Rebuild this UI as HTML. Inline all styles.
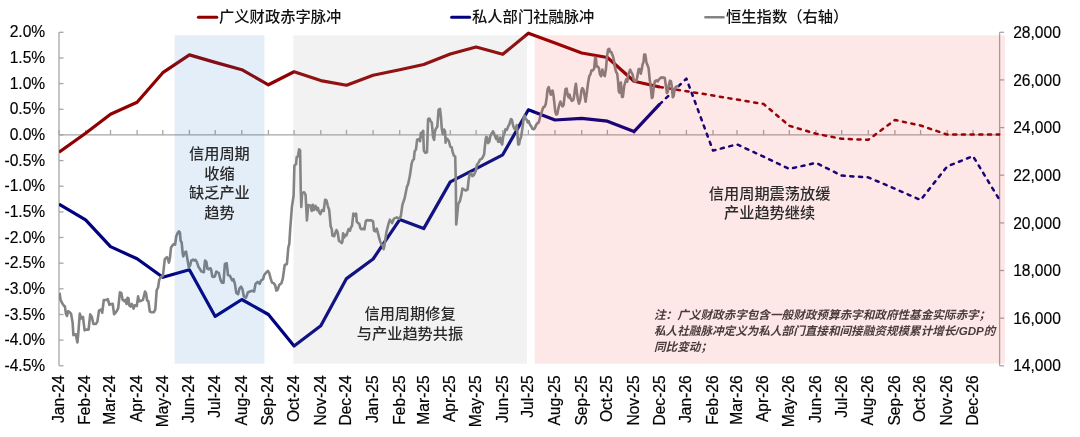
<!DOCTYPE html><html><head><meta charset="utf-8"><style>html,body{margin:0;padding:0;background:#fff;width:1080px;height:437px;overflow:hidden}svg{display:block}</style></head><body>
<svg width="1080" height="437" viewBox="0 0 1080 437">
<defs>
<clipPath id="plot"><rect x="59.0" y="0" width="941.4" height="437"/></clipPath>
</defs>
<g stroke="#A6A6A6" stroke-width="1.3" fill="none">
<line x1="59.0" y1="32.3" x2="59.0" y2="365.8"/>
<line x1="999.6" y1="32.3" x2="999.6" y2="365.8"/>
<line x1="59.0" y1="32.3" x2="63.5" y2="32.3"/>
<line x1="59.0" y1="58.0" x2="63.5" y2="58.0"/>
<line x1="59.0" y1="83.6" x2="63.5" y2="83.6"/>
<line x1="59.0" y1="109.3" x2="63.5" y2="109.3"/>
<line x1="59.0" y1="134.9" x2="63.5" y2="134.9"/>
<line x1="59.0" y1="160.6" x2="63.5" y2="160.6"/>
<line x1="59.0" y1="186.2" x2="63.5" y2="186.2"/>
<line x1="59.0" y1="211.9" x2="63.5" y2="211.9"/>
<line x1="59.0" y1="237.5" x2="63.5" y2="237.5"/>
<line x1="59.0" y1="263.2" x2="63.5" y2="263.2"/>
<line x1="59.0" y1="288.8" x2="63.5" y2="288.8"/>
<line x1="59.0" y1="314.5" x2="63.5" y2="314.5"/>
<line x1="59.0" y1="340.1" x2="63.5" y2="340.1"/>
<line x1="59.0" y1="365.8" x2="63.5" y2="365.8"/>
<line x1="999.6" y1="32.3" x2="1004.1" y2="32.3"/>
<line x1="999.6" y1="79.9" x2="1004.1" y2="79.9"/>
<line x1="999.6" y1="127.6" x2="1004.1" y2="127.6"/>
<line x1="999.6" y1="175.2" x2="1004.1" y2="175.2"/>
<line x1="999.6" y1="222.9" x2="1004.1" y2="222.9"/>
<line x1="999.6" y1="270.5" x2="1004.1" y2="270.5"/>
<line x1="999.6" y1="318.2" x2="1004.1" y2="318.2"/>
<line x1="999.6" y1="365.8" x2="1004.1" y2="365.8"/>
<line x1="59.0" y1="134.9" x2="999.6" y2="134.9"/>
<line x1="59.0" y1="129.9" x2="59.0" y2="134.9"/>
<line x1="85.6" y1="129.9" x2="85.6" y2="134.9"/>
<line x1="110.5" y1="129.9" x2="110.5" y2="134.9"/>
<line x1="137.1" y1="129.9" x2="137.1" y2="134.9"/>
<line x1="162.8" y1="129.9" x2="162.8" y2="134.9"/>
<line x1="189.4" y1="129.9" x2="189.4" y2="134.9"/>
<line x1="215.2" y1="129.9" x2="215.2" y2="134.9"/>
<line x1="241.8" y1="129.9" x2="241.8" y2="134.9"/>
<line x1="268.4" y1="129.9" x2="268.4" y2="134.9"/>
<line x1="294.1" y1="129.9" x2="294.1" y2="134.9"/>
<line x1="320.8" y1="129.9" x2="320.8" y2="134.9"/>
<line x1="346.5" y1="129.9" x2="346.5" y2="134.9"/>
<line x1="373.1" y1="129.9" x2="373.1" y2="134.9"/>
<line x1="399.7" y1="129.9" x2="399.7" y2="134.9"/>
<line x1="423.7" y1="129.9" x2="423.7" y2="134.9"/>
<line x1="450.3" y1="129.9" x2="450.3" y2="134.9"/>
<line x1="476.1" y1="129.9" x2="476.1" y2="134.9"/>
<line x1="502.7" y1="129.9" x2="502.7" y2="134.9"/>
<line x1="528.4" y1="129.9" x2="528.4" y2="134.9"/>
<line x1="555.0" y1="129.9" x2="555.0" y2="134.9"/>
<line x1="581.7" y1="129.9" x2="581.7" y2="134.9"/>
<line x1="607.4" y1="129.9" x2="607.4" y2="134.9"/>
<line x1="634.0" y1="129.9" x2="634.0" y2="134.9"/>
<line x1="659.7" y1="129.9" x2="659.7" y2="134.9"/>
<line x1="686.4" y1="129.9" x2="686.4" y2="134.9"/>
<line x1="713.0" y1="129.9" x2="713.0" y2="134.9"/>
<line x1="737.0" y1="129.9" x2="737.0" y2="134.9"/>
<line x1="763.6" y1="129.9" x2="763.6" y2="134.9"/>
<line x1="789.3" y1="129.9" x2="789.3" y2="134.9"/>
<line x1="815.9" y1="129.9" x2="815.9" y2="134.9"/>
<line x1="841.7" y1="129.9" x2="841.7" y2="134.9"/>
<line x1="868.3" y1="129.9" x2="868.3" y2="134.9"/>
<line x1="894.9" y1="129.9" x2="894.9" y2="134.9"/>
<line x1="920.6" y1="129.9" x2="920.6" y2="134.9"/>
<line x1="947.2" y1="129.9" x2="947.2" y2="134.9"/>
<line x1="973.0" y1="129.9" x2="973.0" y2="134.9"/>
<line x1="999.6" y1="129.9" x2="999.6" y2="134.9"/>
</g>
<g clip-path="url(#plot)">
<path d="M59.0,152.2 L85.6,133.2 L110.5,114.2 L137.1,102.3 L162.8,72.7 L189.4,54.9 L215.2,62.4 L241.8,69.7 L268.4,84.8 L294.1,71.8 L320.8,80.6 L346.5,85.2 L373.1,75.3 L399.7,69.7 L423.7,64.5 L450.3,54.0 L476.1,47.0 L502.7,54.3 L528.4,33.2 L555.0,42.9 L581.7,53.0 L607.4,57.5 L634.0,81.2 L659.7,87.0" stroke="#900000" stroke-width="3.2" fill="none" stroke-linejoin="round"/>
<path d="M659.7,87.0 L686.4,91.2 L713.0,95.5 L737.0,99.6 L763.6,104.0 L789.3,125.8 L815.9,133.7 L841.7,138.8 L868.3,139.8 L894.9,120.0 L920.6,125.5 L947.2,134.6 L973.0,134.6 L999.6,134.6" stroke="#900000" stroke-width="2.5" fill="none" stroke-dasharray="3.1 5.6" stroke-linecap="round" stroke-linejoin="round"/>
<path d="M59.0,204.2 L85.6,219.8 L110.5,246.6 L137.1,258.8 L162.8,277.3 L189.4,269.8 L215.2,316.4 L241.8,299.5 L268.4,314.5 L294.1,346.0 L320.8,325.8 L346.5,278.6 L373.1,259.0 L399.7,219.6 L423.7,228.6 L450.3,181.9 L476.1,168.6 L502.7,154.8 L528.4,109.8 L555.0,120.0 L581.7,118.4 L607.4,121.2 L634.0,131.6 L659.7,104.2" stroke="#000080" stroke-width="3.2" fill="none" stroke-linejoin="round"/>
<path d="M659.7,104.2 L686.4,78.6 L713.0,150.6 L737.0,144.4 L763.6,156.7 L789.3,168.9 L815.9,162.8 L841.7,175.6 L868.3,177.4 L894.9,188.7 L920.6,200.0 L947.2,166.4 L973.0,156.1 L999.6,200.0" stroke="#000080" stroke-width="2.5" fill="none" stroke-dasharray="3.1 5.6" stroke-linecap="round" stroke-linejoin="round"/>
<path d="M59.5,292.8 L60.6,300.0 L62.2,303.2 L63.8,305.6 L64.9,306.4 L65.9,313.6 L67.0,316.0 L68.1,311.2 L69.4,312.0 L71.0,313.6 L72.6,322.4 L73.4,335.2 L75.0,334.4 L75.8,334.4 L77.4,342.4 L78.2,334.4 L79.8,313.6 L81.4,318.4 L83.0,316.8 L84.6,330.4 L86.2,329.6 L88.6,329.6 L90.2,314.4 L91.8,316.8 L93.4,324.0 L95.8,324.0 L97.4,321.6 L99.0,310.4 L101.4,309.6 L102.2,312.8 L103.8,300.0 L106.2,300.0 L107.8,299.2 L109.4,304.8 L111.0,304.0 L112.7,303.9 L114.1,314.2 L115.5,312.9 L116.9,310.8 L118.2,308.1 L119.9,292.3 L121.3,293.0 L122.6,299.8 L124.4,301.2 L125.4,299.8 L126.5,303.9 L127.6,297.8 L128.5,298.4 L129.2,305.3 L130.6,306.7 L131.7,303.9 L132.7,306.0 L133.6,308.7 L134.7,305.3 L136.8,306.0 L138.1,296.4 L139.1,301.2 L140.9,300.9 L143.0,299.8 L145.0,291.6 L146.0,293.0 L147.1,300.5 L148.4,301.2 L149.8,311.5 L151.2,312.2 L153.9,312.2 L155.3,309.4 L156.7,290.2 L158.1,287.5 L159.2,279.9 L160.8,277.2 L162.9,275.8 L164.8,259.1 L166.9,257.1 L167.6,258.4 L168.9,262.6 L169.9,258.4 L171.0,247.5 L172.6,245.4 L173.7,244.0 L175.1,244.7 L176.2,236.5 L177.6,233.0 L178.9,231.3 L179.9,232.4 L180.6,240.6 L181.7,242.7 L182.7,253.6 L183.3,256.4 L184.7,252.3 L186.1,251.6 L187.5,259.8 L188.8,267.4 L190.2,265.3 L191.3,260.5 L193.0,259.5 L194.1,260.5 L195.4,259.8 L196.8,261.9 L198.4,266.7 L199.8,268.7 L201.2,271.5 L202.3,271.5 L203.9,272.2 L205.0,260.5 L206.4,261.9 L207.4,268.7 L208.7,269.4 L210.1,268.1 L211.1,269.4 L212.2,276.3 L213.5,277.0 L214.9,276.3 L216.3,271.5 L218.8,273.0 L220.5,279.8 L221.9,282.6 L223.5,282.6 L224.9,264.0 L226.7,263.3 L228.0,275.0 L229.8,275.7 L231.2,278.4 L232.2,280.5 L233.5,279.1 L234.9,283.9 L236.3,292.9 L238.1,294.2 L239.4,288.7 L241.1,286.7 L242.5,289.4 L243.8,296.3 L245.9,297.7 L248.0,292.2 L250.0,291.5 L252.1,290.8 L254.1,291.5 L255.5,283.9 L257.6,281.9 L259.6,283.9 L261.0,280.5 L263.1,279.1 L264.2,275.0 L265.8,273.0 L267.9,270.9 L269.2,273.0 L270.6,278.4 L272.0,282.6 L273.7,283.3 L275.1,285.1 L276.4,290.6 L277.7,289.7 L279.2,285.1 L281.4,283.3 L282.8,278.7 L284.7,265.0 L286.9,264.0 L288.3,247.5 L289.3,243.9 L290.2,229.2 L291.9,206.9 L293.6,195.7 L294.4,165.7 L296.1,164.0 L296.7,157.1 L297.9,156.3 L299.1,149.4 L300.1,150.3 L300.8,191.4 L301.3,206.9 L302.1,193.1 L304.2,192.3 L305.6,194.9 L306.9,220.5 L308.3,205.1 L310.7,205.8 L311.7,211.0 L312.8,204.8 L313.8,210.0 L315.5,205.8 L316.9,210.0 L317.9,207.9 L319.0,212.0 L320.4,214.1 L322.0,210.0 L323.7,211.0 L325.1,199.7 L326.6,200.7 L327.8,205.8 L329.2,210.0 L330.7,226.6 L331.8,229.3 L332.4,235.5 L334.2,236.2 L335.1,233.4 L336.5,230.0 L337.6,232.1 L339.0,241.0 L340.4,241.7 L341.7,243.1 L342.4,241.7 L343.1,233.4 L344.2,237.6 L345.2,234.8 L346.5,235.5 L347.5,232.1 L348.6,229.1 L350.0,230.7 L350.7,228.0 L352.0,225.9 L353.4,213.5 L354.8,215.6 L356.1,213.5 L356.8,221.8 L358.2,223.1 L359.3,223.8 L360.3,228.0 L361.6,229.3 L363.0,228.6 L364.4,229.3 L365.8,221.1 L367.1,220.1 L369.2,220.4 L371.3,220.4 L373.0,221.1 L374.0,230.7 L375.4,231.4 L376.7,228.6 L377.7,232.1 L379.1,237.6 L380.2,241.7 L381.5,244.4 L382.6,245.1 L383.6,249.2 L384.3,246.5 L385.4,238.9 L386.4,232.3 L388.7,223.1 L389.9,219.7 L392.1,223.1 L394.0,218.6 L396.7,217.4 L399.0,218.6 L400.8,216.3 L402.4,204.9 L404.7,198.0 L407.0,186.6 L408.1,184.3 L410.0,175.1 L411.6,163.7 L412.7,160.3 L413.9,159.1 L414.6,151.5 L416.0,149.4 L417.1,139.8 L418.7,139.1 L420.1,141.2 L420.8,133.0 L421.8,132.3 L422.6,137.1 L423.1,130.9 L423.9,150.8 L425.3,152.9 L427.0,152.2 L428.1,119.2 L429.4,118.5 L430.4,120.6 L431.8,122.7 L433.1,137.1 L434.1,139.8 L434.9,131.6 L435.9,128.8 L437.3,126.8 L438.6,109.6 L440.0,108.9 L441.0,117.9 L441.8,128.8 L442.8,134.3 L444.1,129.5 L445.1,131.6 L445.6,142.6 L446.2,138.4 L447.6,139.1 L448.9,141.2 L450.3,146.7 L451.7,147.4 L452.5,151.3 L453.8,155.5 L455.2,156.5 L455.8,181.2 L456.2,224.5 L457.3,214.2 L458.3,203.9 L460.0,200.8 L461.4,194.6 L462.4,188.5 L464.1,189.5 L465.5,190.5 L467.6,189.5 L468.6,180.2 L469.6,174.0 L471.1,173.0 L472.3,176.1 L473.8,175.1 L475.8,170.9 L476.9,164.7 L478.5,162.7 L480.0,159.6 L482.0,158.6 L484.1,154.4 L485.5,140.3 L486.2,136.9 L487.1,137.6 L488.0,143.1 L489.3,141.7 L490.3,136.2 L491.7,133.4 L493.0,131.4 L494.0,133.4 L495.1,136.2 L496.2,138.9 L497.2,136.2 L498.1,141.7 L499.2,141.7 L500.3,137.6 L501.3,143.1 L502.2,144.4 L503.3,136.2 L504.4,133.4 L505.4,129.3 L506.8,130.0 L508.1,126.6 L509.5,123.8 L510.9,119.0 L511.9,119.7 L513.0,125.2 L514.3,128.6 L515.7,129.3 L516.8,125.2 L518.2,144.4 L519.1,144.4 L519.8,140.3 L520.9,137.6 L521.9,132.1 L522.8,125.2 L523.7,117.7 L524.6,115.6 L525.6,119.0 L526.7,119.7 L527.8,122.5 L528.7,121.1 L530.1,125.2 L531.1,125.9 L532.2,128.6 L533.6,129.3 L534.9,128.0 L536.0,125.2 L537.0,123.8 L538.8,122.2 L540.2,116.7 L541.2,114.0 L542.6,109.1 L543.5,107.1 L544.6,106.8 L545.7,104.3 L546.7,97.5 L547.6,89.2 L548.7,87.2 L549.8,91.3 L550.8,94.7 L551.5,91.3 L552.6,90.6 L553.5,95.4 L554.2,101.6 L555.3,111.9 L556.3,114.6 L557.3,114.0 L558.1,109.8 L559.0,105.7 L560.4,101.6 L561.4,104.3 L562.5,106.4 L563.6,105.0 L564.5,96.8 L565.5,89.2 L566.6,88.5 L567.7,95.4 L568.7,97.5 L569.6,94.7 L570.7,98.8 L571.8,100.9 L573.2,100.2 L574.1,96.1 L575.1,87.9 L575.9,83.7 L576.9,92.7 L577.9,99.5 L579.0,103.7 L580.3,99.5 L581.4,90.6 L582.4,88.1 L583.5,89.7 L584.5,95.3 L585.6,101.7 L586.7,93.7 L588.0,83.3 L589.3,76.1 L590.4,74.5 L591.5,70.4 L592.8,70.4 L594.1,68.8 L595.2,57.6 L596.0,58.4 L596.5,66.4 L597.6,66.4 L598.9,68.0 L600.0,74.5 L601.2,76.1 L602.4,69.6 L603.7,74.5 L604.8,76.1 L606.0,68.8 L606.9,57.6 L608.0,49.6 L609.2,48.8 L610.1,52.0 L611.3,52.0 L612.1,54.4 L612.9,56.0 L614.0,60.8 L614.9,67.2 L616.1,72.0 L617.2,73.7 L618.1,81.7 L618.8,91.3 L619.7,92.9 L620.9,82.5 L622.0,96.9 L622.9,96.9 L624.1,86.5 L625.2,82.5 L626.2,79.3 L627.3,81.7 L628.0,75.2 L629.1,72.5 L630.2,69.7 L631.2,71.8 L632.6,74.5 L633.5,79.3 L634.6,81.4 L636.0,81.0 L637.1,78.0 L638.0,72.5 L638.7,69.0 L639.8,69.0 L640.8,73.8 L641.8,69.0 L642.6,64.2 L643.5,62.2 L644.2,54.6 L645.3,54.6 L646.3,61.5 L647.0,64.2 L647.7,65.6 L648.6,68.3 L649.7,79.3 L650.8,87.6 L651.8,97.9 L652.7,97.2 L653.8,86.2 L654.9,81.4 L656.3,80.4 L657.7,81.4 L659.1,79.3 L660.4,78.0 L661.4,77.3 L662.3,78.0 L663.4,77.3 L664.8,78.0 L665.9,86.2 L666.9,93.1 L667.8,91.7 L668.9,84.8 L670.0,80.7 L671.0,81.4 L672.0,87.6 L672.8,97.2 L673.7,95.8 L674.7,88.9 L675.8,86.9 L677.2,86.2 L678.5,86.2" stroke="#838383" stroke-width="2.6" fill="none" stroke-linejoin="round"/>
</g>
<rect x="174.6" y="35.3" width="89.8" height="328.4" fill="rgba(30,113,197,0.12)"/>
<rect x="293.4" y="35.3" width="233.6" height="328.4" fill="rgba(147,147,147,0.12)"/>
<rect x="534.8" y="35.3" width="470.2" height="328.4" fill="rgba(238,40,40,0.11)"/>
<g font-family='"Liberation Sans", Arial, sans-serif' font-size="15.6" fill="#000" stroke="#000" stroke-width="0.15" text-anchor="end">
<text x="45.2" y="37.3">2.0%</text>
<text x="45.2" y="63.0">1.5%</text>
<text x="45.2" y="88.6">1.0%</text>
<text x="45.2" y="114.3">0.5%</text>
<text x="45.2" y="139.9">0.0%</text>
<text x="45.2" y="165.6">-0.5%</text>
<text x="45.2" y="191.2">-1.0%</text>
<text x="45.2" y="216.9">-1.5%</text>
<text x="45.2" y="242.5">-2.0%</text>
<text x="45.2" y="268.2">-2.5%</text>
<text x="45.2" y="293.8">-3.0%</text>
<text x="45.2" y="319.5">-3.5%</text>
<text x="45.2" y="345.1">-4.0%</text>
<text x="45.2" y="370.8">-4.5%</text>
</g>
<g font-family='"Liberation Sans", Arial, sans-serif' font-size="15.6" fill="#000" stroke="#000" stroke-width="0.15">
<text x="1013.2" y="37.9">28,000</text>
<text x="1013.2" y="85.5">26,000</text>
<text x="1013.2" y="133.2">24,000</text>
<text x="1013.2" y="180.8">22,000</text>
<text x="1013.2" y="228.5">20,000</text>
<text x="1013.2" y="276.1">18,000</text>
<text x="1013.2" y="323.8">16,000</text>
<text x="1013.2" y="371.4">14,000</text>
</g>
<g font-family='"Liberation Sans", Arial, sans-serif' font-size="15.6" fill="#000" stroke="#000" stroke-width="0.2" text-anchor="end">
<text transform="translate(63.8,375.3) rotate(-90)">Jan-24</text>
<text transform="translate(90.4,375.3) rotate(-90)">Feb-24</text>
<text transform="translate(115.3,375.3) rotate(-90)">Mar-24</text>
<text transform="translate(141.9,375.3) rotate(-90)">Apr-24</text>
<text transform="translate(167.6,375.3) rotate(-90)">May-24</text>
<text transform="translate(194.2,375.3) rotate(-90)">Jun-24</text>
<text transform="translate(220.0,375.3) rotate(-90)">Jul-24</text>
<text transform="translate(246.6,375.3) rotate(-90)">Aug-24</text>
<text transform="translate(273.2,375.3) rotate(-90)">Sep-24</text>
<text transform="translate(298.9,375.3) rotate(-90)">Oct-24</text>
<text transform="translate(325.6,375.3) rotate(-90)">Nov-24</text>
<text transform="translate(351.3,375.3) rotate(-90)">Dec-24</text>
<text transform="translate(377.9,375.3) rotate(-90)">Jan-25</text>
<text transform="translate(404.5,375.3) rotate(-90)">Feb-25</text>
<text transform="translate(428.5,375.3) rotate(-90)">Mar-25</text>
<text transform="translate(455.1,375.3) rotate(-90)">Apr-25</text>
<text transform="translate(480.9,375.3) rotate(-90)">May-25</text>
<text transform="translate(507.5,375.3) rotate(-90)">Jun-25</text>
<text transform="translate(533.2,375.3) rotate(-90)">Jul-25</text>
<text transform="translate(559.8,375.3) rotate(-90)">Aug-25</text>
<text transform="translate(586.5,375.3) rotate(-90)">Sep-25</text>
<text transform="translate(612.2,375.3) rotate(-90)">Oct-25</text>
<text transform="translate(638.8,375.3) rotate(-90)">Nov-25</text>
<text transform="translate(664.5,375.3) rotate(-90)">Dec-25</text>
<text transform="translate(691.2,375.3) rotate(-90)">Jan-26</text>
<text transform="translate(717.8,375.3) rotate(-90)">Feb-26</text>
<text transform="translate(741.8,375.3) rotate(-90)">Mar-26</text>
<text transform="translate(768.4,375.3) rotate(-90)">Apr-26</text>
<text transform="translate(794.1,375.3) rotate(-90)">May-26</text>
<text transform="translate(820.7,375.3) rotate(-90)">Jun-26</text>
<text transform="translate(846.5,375.3) rotate(-90)">Jul-26</text>
<text transform="translate(873.1,375.3) rotate(-90)">Aug-26</text>
<text transform="translate(899.7,375.3) rotate(-90)">Sep-26</text>
<text transform="translate(925.4,375.3) rotate(-90)">Oct-26</text>
<text transform="translate(952.0,375.3) rotate(-90)">Nov-26</text>
<text transform="translate(977.8,375.3) rotate(-90)">Dec-26</text>
</g>
<g font-family='"Liberation Sans", "Noto Sans CJK SC", sans-serif' font-size="15.3" font-weight="500" fill="#111">
<line x1="198.4" y1="17.2" x2="216.8" y2="17.2" stroke="#900000" stroke-width="3" stroke-linecap="round"/>
<text x="219" y="22.2">广义财政赤字脉冲</text>
<line x1="451.6" y1="17.2" x2="469.6" y2="17.2" stroke="#000080" stroke-width="3" stroke-linecap="round"/>
<text x="472" y="22.2">私人部门社融脉冲</text>
<line x1="705.5" y1="17.2" x2="723.5" y2="17.2" stroke="#838383" stroke-width="2.6" stroke-linecap="round"/>
<text x="726" y="22.2">恒生指数（右轴）</text>
</g>
<g font-family='"Liberation Sans", "Noto Sans CJK SC", sans-serif' font-size="15.2" font-weight="500" fill="#2a2a2a" text-anchor="middle">
<text x="219.4" y="159.0">信用周期</text>
<text x="219.4" y="178.5">收缩</text>
<text x="219.4" y="198.0">缺乏产业</text>
<text x="219.4" y="217.5">趋势</text>
<text x="410" y="319.4">信用周期修复</text>
<text x="410" y="338.9">与产业趋势共振</text>
<text x="769.6" y="198.8">信用周期震荡放缓</text>
<text x="769.6" y="218.3">产业趋势继续</text>
</g>
<g font-family='"Liberation Sans", "Noto Sans CJK SC", sans-serif' font-size="11.6" font-weight="700" fill="#4a3c3c" font-style="italic">
<text x="654" y="318.7">注：广义财政赤字包含一般财政预算赤字和政府性基金实际赤字；</text>
<text x="654" y="334.7">私人社融脉冲定义为私人部门直接和间接融资规模累计增长/GDP的</text>
<text x="654" y="350.7">同比变动；</text>
</g>
</svg></body></html>
